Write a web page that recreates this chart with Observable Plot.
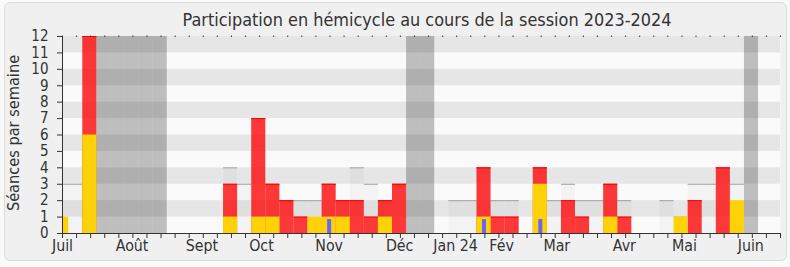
<!DOCTYPE html>
<html><head><meta charset="utf-8">
<script src="https://cdn.jsdelivr.net/npm/d3@7"></script>
<script src="https://cdn.jsdelivr.net/npm/@observablehq/plot@0.6"></script>
<style>
html,body{margin:0;padding:0;background:#fafafa;}
#wrap{position:relative;width:790px;height:267px;overflow:hidden;font-family:"DejaVu Sans Condensed","DejaVu Sans",sans-serif;font-stretch:condensed;color:#333;}
#box{position:absolute;left:4px;top:2px;width:781px;height:257px;background:#f0f0f0;border:1px solid #dcdcdc;border-radius:6px;}
#title{position:absolute;left:0;top:10px;width:726px;padding-left:64px;text-align:center;font-size:17.9px;line-height:1.164;color:#333;white-space:nowrap;}
#ylab{position:absolute;left:13px;top:133px;transform:translate(-50%,-50%) rotate(-90deg);font-size:16.2px;white-space:nowrap;color:#333;}
#chart{position:absolute;left:0;top:0;}
</style></head><body>
<div id="wrap"><div id="box"></div><div id="chart"></div>
<div id="title">Participation en hémicycle au cours de la session 2023-2024</div>
<div id="ylab">Séances par semaine</div></div>
<script>
// week index 0..51 (weekly ticks), data per week
const weeks = d3.range(52);
const seances      = [3,3,12,0,0,0,0,0,0,0,0,0,4,3,7,3,2,2,2,3,2,4,3,2,3,0,0,0,2,2,4,2,2,0,4,2,3,2,2,3,2,0,0,2,1,3,3,4,3,0,0,0];
const presences    = [0,0,12,0,0,0,0,0,0,0,0,0,3,0,7,3,2,1,0,3,2,2,1,2,3,0,0,0,0,0,4,1,1,0,4,0,2,1,0,3,1,0,0,0,0,2,0,4,0,0,0,0];
const interventions= [1,0,6,0,0,0,0,0,0,0,0,0,1,0,1,1,0,0,1,1,1,0,0,1,0,0,0,0,0,0,1,0,0,0,3,0,0,0,0,1,0,0,0,0,1,0,0,0,2,0,0,0];
const questions    = [0,0,0,0,0,0,0,0,0,0,0,0,0,0,0,0,0,0,0,0.85,0,0,0,0,0,0,0,0,0,0,0.85,0,0,0,0.85,0,0,0,0,0,0,0,0,0,0,0,0,0,0,0,0,0];
const vacances = [3,4,5,6,7,25,26,49];
const monthLabels = ["Juil","Août","Sept","Oct","Nov","Déc","Jan 24","Fév","Mar","Avr","Mai","Juin"];
const monthPos    = [0,4.94,9.9,14.13,18.94,23.95,27.92,31.19,35.11,39.91,44.18,48.89];
const yTicks = d3.range(0,13);

const shift = 0.44; // bar weeks end 0.44 week after a tick
const x1 = d => d - 1 + shift, x2 = d => d + shift;
const rows = weeks.map(i => ({i, s: seances[i], p: presences[i], it: interventions[i], q: questions[i]}));
const labelMap = new Map(monthPos.map((p, k) => [p, monthLabels[k]]));
const greyStripes = yTicks.filter(v => v % 2 === 1);

const chart = Plot.plot({
  width: 790, height: 267,
  marginLeft: 62, marginRight: 10, marginTop: 36, marginBottom: 34,
  x: {domain: [0, 51]},
  y: {domain: [0, 12]},
  style: {background: "transparent", fontFamily: '"DejaVu Sans Condensed","DejaVu Sans",sans-serif', fontSize: "15.8px", color: "#333", fontStretch: "condensed"},
  marks: [
    Plot.frame({fill: "#fafafa", stroke: null}),
    Plot.rect(greyStripes, {y1: d => d, y2: d => d + 1, fill: "#e6e6e6"}),
    Plot.rect(vacances, {x1: d => x1(d), x2: d => x2(d), fill: "black", fillOpacity: 0.24}),
    Plot.rect(rows.filter(d => d.s > 0), {x1: d => x1(d.i), x2: d => x2(d.i), y1: 0, y2: "s", fill: "black", fillOpacity: 0.028, clip: true}),
    Plot.ruleY(rows.filter(d => d.s > 0), {x1: d => x1(d.i), x2: d => x2(d.i), y: "s", stroke: "#a0a0a0", clip: true}),
    Plot.rect(rows.filter(d => d.p > 0), {x1: d => x1(d.i), x2: d => x2(d.i), y1: 0, y2: "p", fill: "red", fillOpacity: 0.77, clip: true}),
    Plot.ruleY(rows.filter(d => d.p > 0), {x1: d => x1(d.i), x2: d => x2(d.i), y: "p", stroke: "red", clip: true}),
    Plot.rect(rows.filter(d => d.it > 0), {x1: d => x1(d.i), x2: d => x2(d.i), y1: 0, y2: "it", fill: "#fed208", clip: true}),
    Plot.ruleX(rows.filter(d => d.q > 0), {x: d => d.i - 0.5 + shift, y1: 0, y2: "q", stroke: "#6666ff", strokeWidth: 4}),
    Plot.axisY({ticks: yTicks, tickSize: 5, tickPadding: 9, label: null, fontSize: 15, tickFormat: d => String(d)}),
    Plot.axisX({ticks: weeks, tickSize: 5, tickFormat: () => "", label: null}),
    Plot.axisX({anchor: "top", ticks: weeks, tickSize: 1.5, tickFormat: () => "", label: null}),
    Plot.axisX({ticks: monthPos, tickSize: 0, tickPadding: 6, tickFormat: d => labelMap.get(d), label: null}),
    Plot.ruleX([0], {stroke: "#333"}),
    Plot.ruleY([0], {stroke: "#333"})
  ]
});
document.getElementById("chart").appendChild(chart);
</script>
</body></html>
